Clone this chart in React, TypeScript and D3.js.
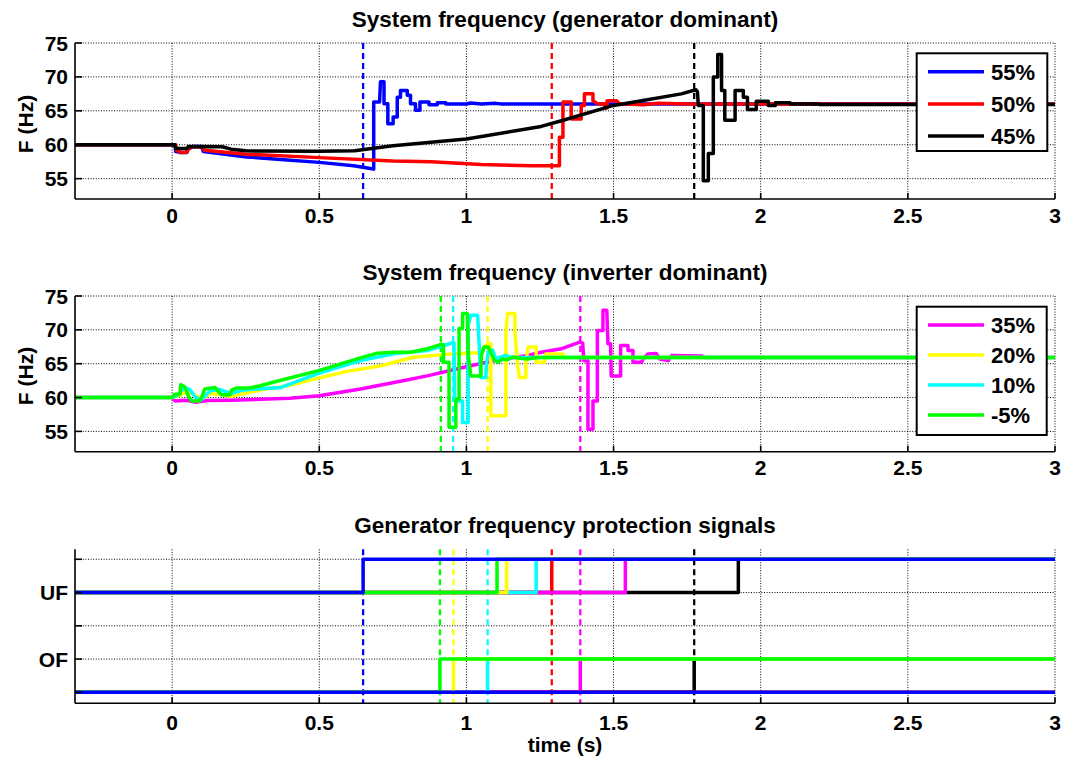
import { useRef, useEffect } from 'react';
import * as d3 from 'd3';

// ---- data ----
const xTicks = [0, 0.5, 1, 1.5, 2, 2.5, 3];
const xTickLabels = ['0', '0.5', '1', '1.5', '2', '2.5', '3'];
const freqTicks = [55, 60, 65, 70, 75];
const sigTicks = [0, 1, 2, 3, 4];
const sigTickLabels = ['', 'OF', '', 'UF', ''];

// generator dominant
const gen55 = [
  [-0.33, 60], [0.01, 60], [0.012, 59.0], [0.03, 58.85], [0.05, 58.85], [0.055, 59.35], [0.07, 59.75],
  [0.1, 59.75], [0.106, 59.0], [0.16, 58.7], [0.254, 58.2], [0.38, 57.8], [0.5, 57.4], [0.617, 56.9], [0.674, 56.5], [0.685, 56.4],
  [0.685, 66.3], [0.705, 66.3], [0.708, 69.3], [0.72, 69.3], [0.72, 66.05], [0.733, 66.05], [0.733, 63.1],
  [0.751, 63.1], [0.751, 64.1], [0.765, 64.1], [0.765, 67.0], [0.776, 67.0], [0.776, 68.0], [0.799, 68.0],
  [0.799, 67.3], [0.81, 67.3], [0.81, 66.05], [0.827, 66.05], [0.827, 65.1], [0.842, 65.1], [0.842, 66.3],
  [0.873, 66.3], [0.873, 65.9], [0.901, 65.9], [0.901, 66.2], [0.93, 66.2], [0.93, 66.0], [1.0, 66.0],
  [1.015, 66.15], [1.05, 66.0], [1.1, 66.1], [1.12, 66.0], [3, 66.0],
];
const gen50 = [
  [-0.33, 60], [0.012, 60], [0.015, 59.2], [0.03, 58.85], [0.05, 58.9], [0.055, 59.4], [0.07, 59.7],
  [0.1, 59.7], [0.11, 59.2], [0.25, 58.6], [0.5, 58.1], [0.75, 57.6], [0.88, 57.5], [1.05, 57.1],
  [1.22, 56.9], [1.316, 56.9], [1.316, 61.1], [1.328, 61.1], [1.328, 66.3], [1.356, 66.3], [1.356, 63.8],
  [1.39, 63.8], [1.39, 65.8], [1.401, 65.8], [1.401, 67.5], [1.43, 67.5], [1.43, 66.5], [1.445, 66.05],
  [1.47, 66.05], [1.47, 65.4], [1.478, 65.4], [1.478, 66.5], [1.51, 66.5], [1.52, 66.05], [1.6, 65.9],
  [1.65, 66.1], [1.75, 66.0], [3, 66.0],
];
const gen45 = [
  [-0.33, 60], [0.009, 60], [0.012, 59.45], [0.05, 59.45], [0.055, 59.75], [0.17, 59.7], [0.2, 59.35],
  [0.25, 59.1], [0.5, 59.05], [0.62, 59.1], [0.75, 59.85], [1.0, 60.85], [1.254, 62.7], [1.32, 63.5],
  [1.5, 65.8], [1.595, 66.5], [1.73, 67.5], [1.78, 68.1], [1.785, 67.8], [1.788, 65.8], [1.805, 65.8],
  [1.805, 54.7], [1.822, 54.7], [1.822, 58.7], [1.839, 58.7], [1.839, 70.0], [1.854, 70.0], [1.854, 73.3],
  [1.867, 73.3], [1.867, 68.0], [1.878, 68.0], [1.878, 63.6], [1.913, 63.6], [1.913, 68.0], [1.941, 68.0],
  [1.941, 67.0], [1.955, 67.0], [1.955, 65.2], [1.985, 65.2], [1.985, 66.4], [2.026, 66.4], [2.026, 65.8],
  [2.05, 65.8], [2.05, 66.2], [2.1, 66.2], [2.1, 66.0], [2.2, 66.0], [2.2, 65.95], [3, 65.95],
];

// inverter dominant
const inv35 = [
  [-0.33, 60], [0.0, 60], [0.01, 59.5], [0.05, 59.6], [0.08, 59.3], [0.12, 59.55], [0.2, 59.6],
  [0.3, 59.75], [0.4, 59.9], [0.5, 60.25], [0.64, 61.25], [0.754, 62.23], [0.867, 63.2], [0.981, 64.37],
  [1.094, 65.46], [1.208, 66.2], [1.254, 66.7], [1.322, 67.2], [1.385, 68.2], [1.395, 68.05],
  [1.399, 65.45], [1.413, 65.45], [1.413, 55.3], [1.43, 55.3], [1.43, 59.5], [1.445, 59.5], [1.445, 69.9],
  [1.464, 69.9], [1.464, 72.9], [1.477, 72.9], [1.481, 67.95], [1.49, 67.95], [1.492, 63.2], [1.524, 63.2],
  [1.524, 67.7], [1.549, 67.7], [1.549, 66.95], [1.566, 66.95], [1.566, 65.2], [1.595, 65.2], [1.6, 65.7],
  [1.617, 66.45], [1.645, 66.5], [1.657, 65.7], [1.686, 65.45], [1.697, 66.2], [1.8, 66.15], [1.81, 65.9],
  [3, 65.9],
];
const inv20 = [
  [-0.33, 60], [0.0, 60], [0.02, 60.2], [0.05, 60.9], [0.08, 60.3], [0.1, 59.8], [0.13, 60.6],
  [0.17, 60.4], [0.2, 60.2], [0.3, 61.1], [0.4, 61.8], [0.5, 62.9], [0.6, 63.9], [0.71, 64.7],
  [0.82, 65.95], [0.95, 66.45], [1.04, 66.6], [1.072, 67.95], [1.083, 67.95], [1.083, 57.3], [1.134, 57.3],
  [1.134, 69.7], [1.14, 72.4], [1.165, 72.4], [1.165, 69.7], [1.174, 64.7], [1.18, 62.95], [1.202, 62.95],
  [1.202, 65.2], [1.21, 67.45], [1.237, 67.45], [1.237, 65.2], [1.265, 65.2], [1.27, 66.45], [1.328, 66.45],
  [1.33, 65.9], [3, 65.9],
];
const inv10 = [
  [-0.33, 60], [0.0, 60], [0.02, 60.4], [0.04, 61.5], [0.06, 61.2], [0.08, 60.0], [0.1, 59.7],
  [0.13, 61.0], [0.16, 61.2], [0.2, 60.6], [0.24, 61.1], [0.3, 61.3], [0.37, 61.5], [0.5, 63.6],
  [0.64, 65.46], [0.754, 66.45], [0.867, 66.95], [0.951, 68.05], [0.958, 68.05], [0.96, 59.5],
  [0.987, 59.5], [0.987, 56.3], [1.006, 56.3], [1.006, 70.7], [1.015, 72.15], [1.038, 72.15], [1.04, 70.7],
  [1.049, 62.95], [1.066, 62.95], [1.068, 64.95], [1.075, 66.95], [1.09, 66.95], [1.1, 65.7], [1.13, 66.2],
  [1.16, 65.9], [3, 65.9],
];
const invM5 = [
  [-0.33, 60], [0.0, 60], [0.009, 60.5], [0.027, 60.5], [0.029, 61.9], [0.043, 61.6], [0.055, 60.25],
  [0.066, 59.5], [0.094, 59.5], [0.1, 60], [0.111, 61.25], [0.146, 61.5], [0.157, 60.9], [0.168, 60.4],
  [0.197, 60.4], [0.202, 61.1], [0.219, 61.4], [0.265, 61.4], [0.299, 61.75], [0.356, 62.4],
  [0.498, 63.97], [0.64, 65.86], [0.697, 66.55], [0.754, 66.7], [0.81, 66.7], [0.867, 67.2],
  [0.913, 67.85], [0.922, 67.85], [0.922, 65.2], [0.941, 65.2], [0.941, 55.6], [0.964, 55.6],
  [0.964, 59.75], [0.975, 59.75], [0.975, 70.2], [0.987, 70.2], [0.987, 72.4], [1.003, 72.4],
  [1.006, 66.45], [1.015, 63.2], [1.049, 63.2], [1.051, 66.2], [1.06, 67.45], [1.075, 67.45],
  [1.094, 65.6], [1.106, 65.2], [1.123, 65.7], [1.14, 65.6], [1.157, 66.0], [1.18, 65.8], [1.208, 65.7],
  [1.24, 65.9], [3, 65.9],
];

// protection signals, in drawing order (last on top)
const sigNames = ['45%', '50%', '35%', '10%', '20%', '-5%', '55%'];
const sigColors = ['#000000', '#ff0000', '#ff00ff', '#00ffff', '#ffff00', '#00ff00', '#0000ff'];
const ufTrip = [1.924, 1.29, 1.54, 1.237, 1.137, 1.104, 0.649];
const ofTrip = [1.774, null, 1.387, 1.072, 0.956, 0.91, null];

// trip markers (dashed)
const genMarks = [0.649, 1.29, 1.774];
const genMarkColors = ['#0000ff', '#ff0000', '#000000'];
const invMarks = [0.913, 0.955, 1.072, 1.387];
const invMarkColors = ['#00ff00', '#00ffff', '#ffff00', '#ff00ff'];
const sigMarks = [0.649, 0.91, 0.956, 1.072, 1.29, 1.387, 1.774];
const sigMarkColors = ['#0000ff', '#00ff00', '#ffff00', '#00ffff', '#ff0000', '#ff00ff', '#000000'];

const genLegend = ['55%', '50%', '45%'];
const genColors = ['#0000ff', '#ff0000', '#000000'];
const invLegend = ['35%', '20%', '10%', '-5%'];
const invColors = ['#ff00ff', '#ffff00', '#00ffff', '#00ff00'];

const W = 1067;
const H = 763;
const FONT = '"Liberation Sans", Arial, Helvetica, sans-serif';

export default function App() {
  const svgRef = useRef(null);

  useEffect(() => {
    const svg = d3.select(svgRef.current);
    svg.selectAll('*').remove();
    svg.append('rect').attr('width', W).attr('height', H).attr('fill', '#fff');

    const x = d3.scaleLinear().domain([-0.33, 3]).range([75, 1055]);

    const panel = (top, bottom, domain, ticks, labels, title, titleY, tickLabelDy) => {
      const y = d3.scaleLinear().domain(domain).range([bottom, top]);
      const g = svg.append('g');

      // dotted grid
      xTicks.forEach(t => {
        g.append('line')
          .attr('x1', x(t)).attr('x2', x(t)).attr('y1', top).attr('y2', bottom)
          .attr('stroke', '#000').attr('stroke-width', 1).attr('stroke-dasharray', '1,1.6');
      });
      ticks.forEach(t => {
        g.append('line')
          .attr('x1', x.range()[0]).attr('x2', x.range()[1]).attr('y1', y(t)).attr('y2', y(t))
          .attr('stroke', '#000').attr('stroke-width', 1).attr('stroke-dasharray', '1,1.6');
      });

      // title
      svg.append('text')
        .attr('x', (x.range()[0] + x.range()[1]) / 2).attr('y', titleY)
        .attr('text-anchor', 'middle').attr('font-family', FONT).attr('font-weight', 700)
        .attr('font-size', 22.5).text(title);

      // tick labels
      xTicks.forEach((t, i) => {
        svg.append('text')
          .attr('x', x(t)).attr('y', bottom + tickLabelDy)
          .attr('text-anchor', 'middle').attr('font-family', FONT).attr('font-weight', 700)
          .attr('font-size', 21).text(xTickLabels[i]);
      });
      ticks.forEach((t, i) => {
        svg.append('text')
          .attr('x', 68).attr('y', y(t) + 7.5)
          .attr('text-anchor', 'end').attr('font-family', FONT).attr('font-weight', 700)
          .attr('font-size', 21).text(labels[i]);
      });

      return { g, y, top, bottom };
    };

    const axes = (p, ticks) => {
      const a = svg.append('g');
      a.append('line').attr('x1', 75).attr('x2', 75).attr('y1', p.top).attr('y2', p.bottom)
        .attr('stroke', '#000').attr('stroke-width', 1.6);
      a.append('line').attr('x1', 75).attr('x2', 1055).attr('y1', p.bottom).attr('y2', p.bottom)
        .attr('stroke', '#000').attr('stroke-width', 1.6);
      xTicks.forEach(t => {
        a.append('line').attr('x1', x(t)).attr('x2', x(t)).attr('y1', p.bottom).attr('y2', p.bottom - 6)
          .attr('stroke', '#000').attr('stroke-width', 1.6);
      });
      ticks.forEach(t => {
        a.append('line').attr('x1', 75).attr('x2', 82).attr('y1', p.y(t)).attr('y2', p.y(t))
          .attr('stroke', '#000').attr('stroke-width', 1.6);
      });
    };

    const marks = (p, ts, cols) => {
      ts.forEach((t, i) => {
        p.g.append('line')
          .attr('x1', x(t)).attr('x2', x(t)).attr('y1', p.top).attr('y2', p.bottom)
          .attr('stroke', cols[i]).attr('stroke-width', 2.3).attr('stroke-dasharray', '6,4');
      });
    };

    const trace = (p, data, color) => {
      const line = d3.line().x(d => x(d[0])).y(d => p.y(d[1]));
      p.g.append('path').attr('d', line(data)).attr('fill', 'none')
        .attr('stroke', color).attr('stroke-width', 3.5).attr('stroke-linejoin', 'round');
    };

    const legend = (x0, y0, x1, y1, rows, rowStep, names, cols) => {
      const l = svg.append('g');
      l.append('rect').attr('x', x0).attr('y', y0).attr('width', x1 - x0).attr('height', y1 - y0)
        .attr('fill', '#fff').attr('stroke', '#000').attr('stroke-width', 2);
      names.forEach((n, i) => {
        const yy = rows + i * rowStep;
        l.append('line').attr('x1', 928).attr('x2', 984).attr('y1', yy).attr('y2', yy)
          .attr('stroke', cols[i]).attr('stroke-width', 3.5);
        l.append('text').attr('x', 991).attr('y', yy + 8)
          .attr('font-family', FONT).attr('font-weight', 700).attr('font-size', 22).text(n);
      });
    };

    const yLabel = (cy) => {
      svg.append('text')
        .attr('transform', `translate(33,${cy}) rotate(-90)`)
        .attr('text-anchor', 'middle').attr('font-family', FONT).attr('font-weight', 700)
        .attr('font-size', 21).text('F (Hz)');
    };

    // ---- panel 1: generator dominant ----
    const p1 = panel(43, 199, [52, 75], freqTicks, freqTicks.map(String),
      'System frequency (generator dominant)', 26.7, 23.5);
    marks(p1, genMarks, genMarkColors);
    trace(p1, gen55, '#0000ff');
    trace(p1, gen50, '#ff0000');
    trace(p1, gen45, '#000000');
    axes(p1, freqTicks);
    yLabel(124);
    legend(916.7, 53.3, 1047.3, 151, 71.7, 32.2, genLegend, genColors);

    // ---- panel 2: inverter dominant ----
    const p2 = panel(296, 451.7, [52, 75], freqTicks, freqTicks.map(String),
      'System frequency (inverter dominant)', 279.7, 23.5);
    marks(p2, invMarks, invMarkColors);
    trace(p2, inv35, '#ff00ff');
    trace(p2, inv20, '#ffff00');
    trace(p2, inv10, '#00ffff');
    trace(p2, invM5, '#00ff00');
    axes(p2, freqTicks);
    yLabel(376);
    legend(916.7, 306.7, 1046.7, 435, 325, 30, invLegend, invColors);

    // ---- panel 3: protection signals ----
    const p3 = panel(549.3, 703.3, [-0.33, 4.3], sigTicks, sigTickLabels,
      'Generator frequency protection signals', 533, 26.7);
    marks(p3, sigMarks, sigMarkColors);
    sigNames.forEach((n, i) => {
      const u = ufTrip[i];
      trace(p3, [[-0.33, 3], [u, 3], [u, 4], [3, 4]], sigColors[i]);
    });
    sigNames.forEach((n, i) => {
      const o = ofTrip[i];
      const d = o === null ? [[-0.33, 0], [3, 0]] : [[-0.33, 0], [o, 0], [o, 1], [3, 1]];
      trace(p3, d, sigColors[i]);
    });
    axes(p3, sigTicks);

    svg.append('text')
      .attr('x', 565).attr('y', 752).attr('text-anchor', 'middle')
      .attr('font-family', FONT).attr('font-weight', 700).attr('font-size', 21).text('time (s)');
  }, []);

  return (
    <svg ref={svgRef} width={W} height={H}
      style={{ position: 'absolute', left: 0, top: 0, display: 'block' }} />
  );
}
